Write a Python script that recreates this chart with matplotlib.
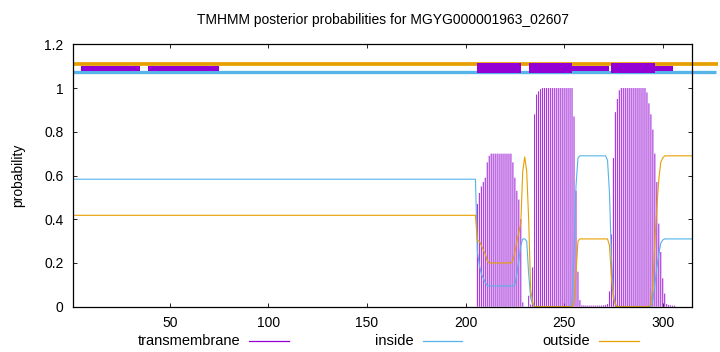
import matplotlib
matplotlib.use('Agg')
import matplotlib.pyplot as plt
from matplotlib.lines import Line2D
from matplotlib.ticker import FuncFormatter
import numpy as np

plt.rcParams['font.family'] = ['Liberation Sans', 'DejaVu Sans']
plt.rcParams['font.size'] = 10

SEQ_LEN = 315
TITLE = 'TMHMM posterior probabilities for MGYG000001963_02607'

# posterior probability of transmembrane, residues 205..305
tm_start = 205
tm_prob = [
    0.0, 0.47, 0.52, 0.55, 0.57, 0.59, 0.66, 0.69,                  # 205-212
    0.70, 0.70, 0.70, 0.70, 0.70, 0.70, 0.70, 0.70, 0.70, 0.70, 0.70,  # 213-223
    0.66, 0.59, 0.53, 0.49, 0.40, 0.02, 0.0, 0.0,                   # 224-231
    0.05, 0.01, 0.18, 0.88, 0.97, 0.985, 0.995,                     # 231-237
    1.0, 1.0, 1.0, 1.0, 1.0, 1.0, 1.0, 1.0,
    1.0, 1.0, 1.0, 1.0, 1.0, 1.0, 1.0, 1.0,                         # 238-253
    0.87, 0.53, 0.16, 0.03,                                         # 254-257
    0.006, 0.006, 0.005, 0.005, 0.005, 0.005, 0.005,
    0.005, 0.005, 0.005, 0.005, 0.006, 0.008, 0.012,                # 258-271
    0.07, 0.33, 0.68, 0.89, 0.95, 0.99,                             # 272-277
    1.0, 1.0, 1.0, 1.0, 1.0, 1.0, 1.0, 1.0, 1.0, 1.0, 1.0, 1.0, 1.0,  # 278-290
    0.98, 0.93, 0.88, 0.81, 0.70, 0.57, 0.38, 0.25, 0.13, 0.06,     # 291-300
    0.012, 0.008, 0.006, 0.005, 0.005,                              # 301-305
]

inside_pos = [1, 205, 206, 207, 208, 209, 210, 211, 212, 224,
              225, 226, 227, 228, 229, 230, 231, 232, 233, 234,
              235, 253, 254, 255, 256, 257, 258, 271, 272, 273,
              274, 275, 276, 277, 294, 295, 296, 297, 298, 299,
              300, 301, 315]
inside_val = [0.583, 0.583, 0.25, 0.19, 0.15, 0.13, 0.11, 0.097, 0.095, 0.095,
              0.10, 0.15, 0.21, 0.28, 0.31, 0.31, 0.30, 0.15, 0.04, 0.01,
              0.0, 0.0, 0.02, 0.25, 0.55, 0.68, 0.69, 0.69, 0.67, 0.52,
              0.22, 0.06, 0.01, 0.0, 0.0, 0.03, 0.10, 0.18, 0.24, 0.29,
              0.305, 0.31, 0.31]

outside_pos = [1, 205, 206, 207, 208, 209, 210, 211, 212, 223,
               224, 225, 226, 227, 228, 229, 230, 231, 232, 233,
               234, 235, 254, 255, 256, 257, 258, 272, 273, 274,
               275, 276, 277, 293, 294, 295, 296, 297, 298, 299,
               300, 301, 315]
outside_val = [0.418, 0.418, 0.30, 0.30, 0.28, 0.26, 0.24, 0.21, 0.20, 0.20,
               0.21, 0.25, 0.30, 0.34, 0.38, 0.62, 0.685, 0.62, 0.40, 0.08,
               0.02, 0.0, 0.0, 0.02, 0.15, 0.30, 0.31, 0.31, 0.28, 0.13,
               0.04, 0.01, 0.0, 0.0, 0.01, 0.10, 0.30, 0.45, 0.58, 0.66,
               0.68, 0.69, 0.69]

# predicted topology drawn above the plot
tm_segments = [(206, 228), (232, 254), (274, 296)]
thin_segments = [(5, 35), (39, 75), (254, 273), (296, 305)]
outside_bar_y = 1.111
inside_bar_y = 1.072

C_TM = '#9400d3'
C_IMP = '#a632da'
C_IN = '#56b4e9'
C_OUT = '#e69f00'

fig = plt.figure(figsize=(7.2, 3.52), dpi=100)
ax = fig.add_axes([0.1018, 0.1287, 0.8597, 0.7454])

res = np.arange(tm_start, tm_start + len(tm_prob))
ax.vlines(res, 0, tm_prob, color=C_IMP, lw=0.8, snap=False, antialiased=True)
ax.plot(inside_pos, inside_val, color=C_IN, lw=0.8)
ax.plot(outside_pos, outside_val, color=C_OUT, lw=0.8)

# topology bars (they run a bit past the right border like the original)
bar_end = SEQ_LEN + 13
ax.plot([1, bar_end], [outside_bar_y, outside_bar_y], color=C_OUT, lw=2.7,
        clip_on=False, solid_capstyle='butt')
ax.plot([1, bar_end - 1], [inside_bar_y, inside_bar_y], color=C_IN, lw=2.4,
        clip_on=False, solid_capstyle='butt')
ax.broken_barh([(a, b - a) for a, b in thin_segments], (1.080, 0.022),
               facecolor=C_TM, edgecolor='none', zorder=3)
ax.broken_barh([(a, b - a) for a, b in tm_segments], (1.067, 0.049),
               facecolor=C_TM, edgecolor='none', zorder=3)

ax.set_xlim(1, SEQ_LEN)
ax.set_ylim(0, 1.2)
ax.set_xticks([50, 100, 150, 200, 250, 300])
ax.set_yticks([0, 0.2, 0.4, 0.6, 0.8, 1.0, 1.2])
ax.yaxis.set_major_formatter(FuncFormatter(lambda v, p: '%g' % v))
ax.tick_params(direction='in', length=3, width=0.6, top=True, right=True,
               labelsize=10, pad=7)
for s in ax.spines.values():
    s.set_linewidth(0.9)

ax.set_ylabel('probability', fontsize=10)
ax.yaxis.set_label_coords(-0.078, 0.5)
fig.text(0.5315, 0.943, TITLE, ha='center', va='center', fontsize=10)

# legend along the bottom, text first then sample line
legend_items = [('transmembrane', C_TM), ('inside', C_IN), ('outside', C_OUT)]
legend_text_x = [0.334, 0.575, 0.820]
ly = 0.031
for (name, col), tx in zip(legend_items, legend_text_x):
    fig.text(tx, ly, name, ha='right', va='center', fontsize=10.5)
    fig.add_artist(Line2D([tx + 0.0125, tx + 0.067], [ly, ly], color=col, lw=0.9))

fig.savefig('out.png', dpi=100)
